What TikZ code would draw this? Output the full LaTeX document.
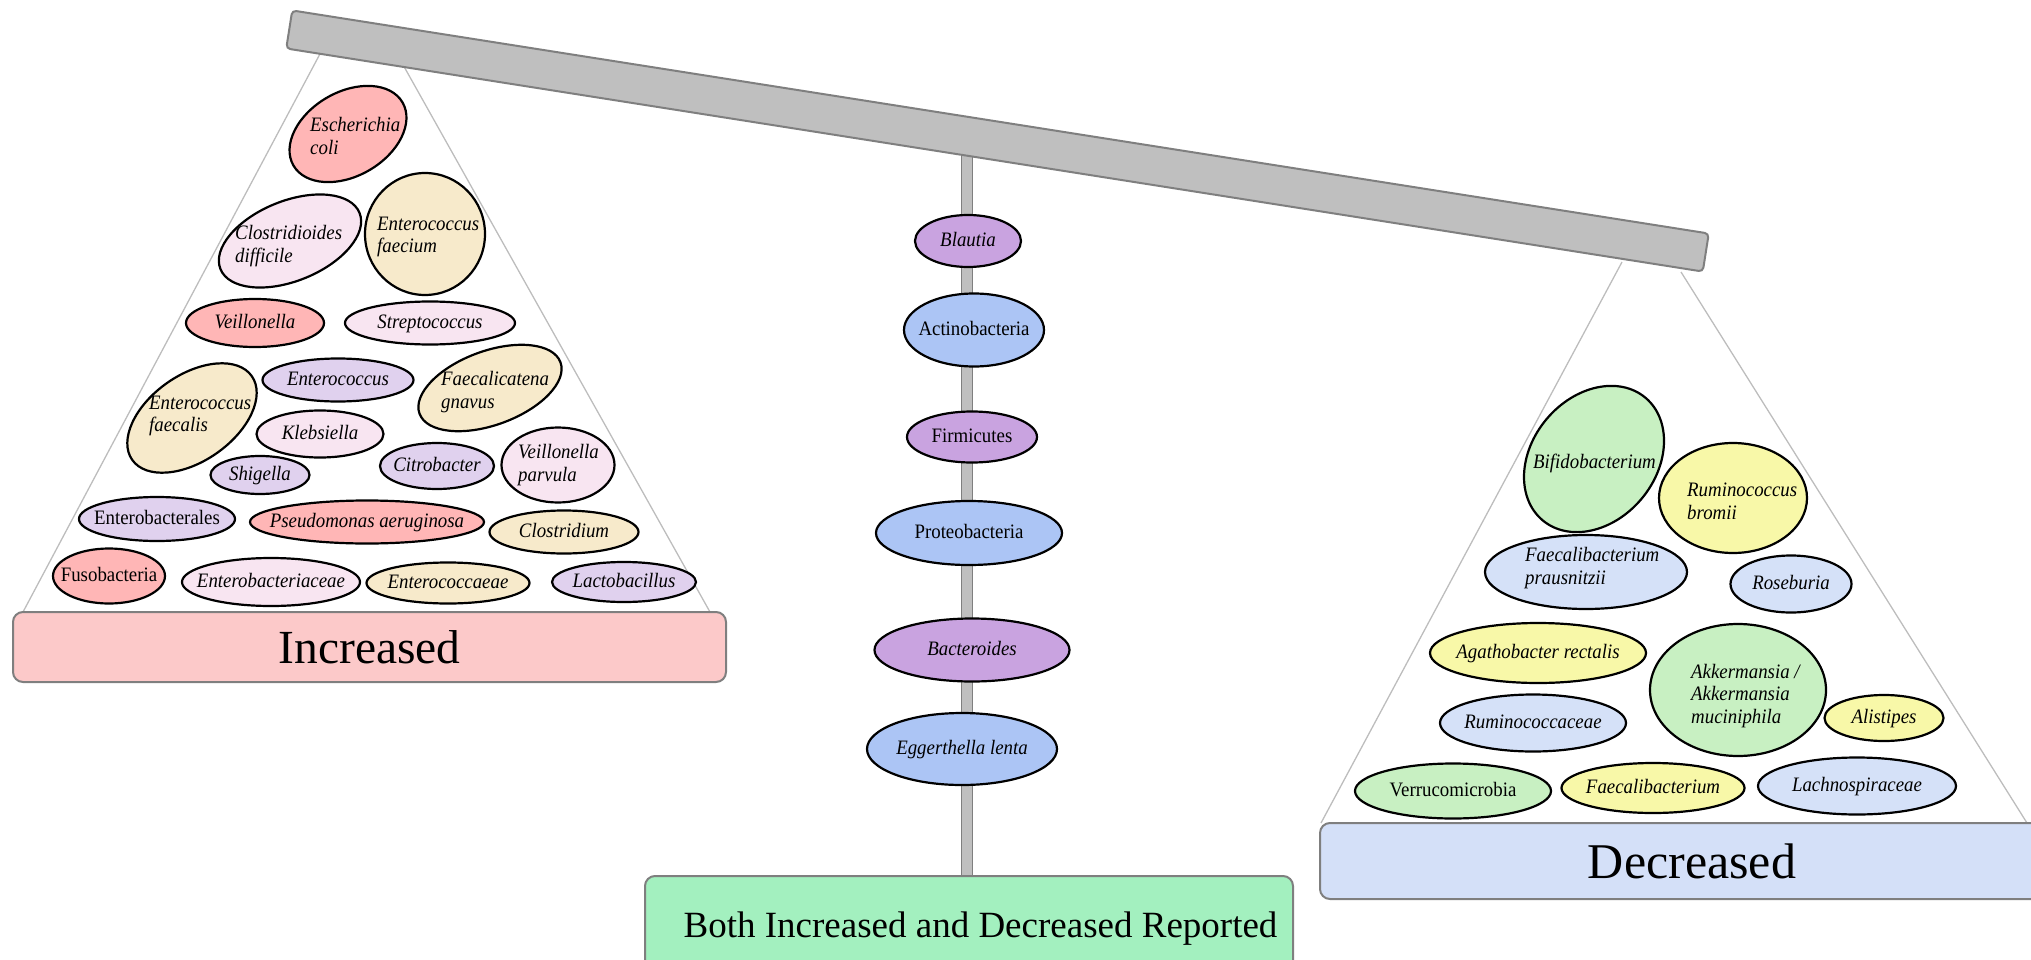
\documentclass[tikz,border=0pt]{standalone}
\usepackage{fontspec}
\setmainfont{Liberation Serif}
\newfontfamily\ovfam[FakeStretch=0.92]{Liberation Serif}
\usetikzlibrary{shapes.geometric}
\definecolor{salmon}{HTML}{FFB6B6}
\definecolor{lpink}{HTML}{F8E5F1}
\definecolor{beige}{HTML}{F7EACB}
\definecolor{lav}{HTML}{E0D1EE}
\definecolor{mpurple}{HTML}{C9A3E0}
\definecolor{mblue}{HTML}{ACC5F5}
\definecolor{rgreen}{HTML}{C8F0C2}
\definecolor{ryellow}{HTML}{F8F8A8}
\definecolor{rblue}{HTML}{D5E1F8}
\definecolor{incbox}{HTML}{FCC9C9}
\definecolor{decbox}{HTML}{D4E0F8}
\definecolor{bothbox}{HTML}{A3F0BF}
\definecolor{beamfill}{HTML}{BFBFBF}
\definecolor{beamdraw}{HTML}{7F7F7F}
\definecolor{stringc}{HTML}{BDBDBD}
\newcommand\ovfont{\ovfam\fontsize{20.5}{22.8}\selectfont}
\newcommand\bub[6]{\node[ov, fill=#3, minimum width=#4pt, minimum height=#5pt, rotate=#6] (#1) at (#2) {};}
\begin{document}
\begin{tikzpicture}[x=1pt,y=-1pt,
  ov/.style={ellipse, draw=black, line width=2.2pt, inner sep=0pt, outer sep=0pt},
  tx/.style={font=\ovfont, inner sep=0pt, text height=14pt, text depth=3pt},
  mtx/.style={font=\ovfont, inner sep=0pt, align=left, anchor=west},
  basebox/.style={rectangle, rounded corners=10pt, draw=beamdraw, line width=2pt, inner sep=0pt},
  stringline/.style={draw=stringc, line width=1.3pt},
  beamstyle/.style={rectangle, rounded corners=4pt, fill=beamfill, draw=beamdraw, line width=2pt, inner sep=0pt},
]
\useasboundingbox (0,0) rectangle (2031,960);
\clip (0,0) rectangle (2031,960);

% strings of the pans
\coordinate (lt1) at (321,52);
\coordinate (lt2) at (402,63);
\coordinate (lb1) at (23,612);
\coordinate (lb2) at (710,612);
\coordinate (rt1) at (1622,262);
\coordinate (rt2) at (1681,272);
\coordinate (rb1) at (1321,823);
\coordinate (rb2) at (2027,823);
\draw[stringline] (lt1) -- (lb1);
\draw[stringline] (lt2) -- (lb2);
\draw[stringline] (rt1) -- (rb1);
\draw[stringline] (rt2) -- (rb2);

% pole
\node[rectangle, fill=beamfill, draw=beamdraw, line width=1.2pt, minimum width=11pt, minimum height=729pt, inner sep=0pt, anchor=north] (pole) at (967,148) {};

% beam
\node[beamstyle, minimum width=1434pt, minimum height=38.5pt, rotate=-8.95] (beam) at (997.5,141) {};

% base boxes
\node[basebox, fill=incbox, minimum width=713pt, minimum height=70pt, font=\fontsize{47.5}{50}\selectfont] (inc) at (369.5,647) {Increased};
\node[basebox, fill=decbox, minimum width=744pt, minimum height=76pt, font=\fontsize{50}{54}\selectfont] (dec) at (1692,861) {Decreased};
\node[basebox, fill=bothbox, minimum width=648pt, minimum height=110pt, anchor=north west] (both) at (644,875) {};
\node[font=\fontsize{37}{40}\selectfont, anchor=base, inner sep=0pt] (bothtxt) at (980.5,937) {Both Increased and Decreased Reported};

% ---- left pan ----
\bub{ecoli}{348,134}{salmon}{126}{84}{30}
\node[mtx] (ecolit) at (310,136) {\itshape Escherichia\\\itshape coli};
\bub{cdiff}{290,241}{lpink}{150}{80}{22}
\node[mtx] (cdifft) at (235,246) {\itshape Clostridioides\\\itshape difficile};
\bub{efaecium}{425,234}{beige}{120}{122}{0}
\node[mtx] (efaeciumt) at (377,237) {\itshape Enterococcus\\\itshape faecium};
\bub{veill}{255,323}{salmon}{138}{48}{0}
\node[tx] (veillt) at (veill) {\itshape Veillonella};
\bub{strep}{430,323}{lpink}{170}{43}{0}
\node[tx] (strept) at (strep) {\itshape Streptococcus};
\bub{entero}{338,380}{lav}{151}{43}{0}
\node[tx] (enterot) at (entero) {\itshape Enterococcus};
\bub{fgnavus}{490,388}{beige}{150}{74}{20}
\node[mtx] (fgnavust) at (441,392) {\itshape Faecalicatena\\\itshape gnavus};
\bub{efaecalis}{192,418}{beige}{146}{86}{35}
\node[mtx] (efaecalist) at (149,416) {\itshape Enterococcus\\\itshape faecalis};
\bub{kleb}{320,434}{lpink}{127}{47}{0}
\node[tx] (klebt) at (kleb) {\itshape Klebsiella};
\bub{shig}{260,475}{lav}{99}{38}{0}
\node[tx] (shigt) at (shig) {\itshape Shigella};
\bub{citro}{437,466}{lav}{114}{46}{0}
\node[tx] (citrot) at (citro) {\itshape Citrobacter};
\bub{vparv}{558,465}{lpink}{113}{75}{0}
\node[mtx] (vparvt) at (518,465) {\itshape Veillonella\\\itshape parvula};
\bub{ebales}{157,519}{lav}{156}{44}{0}
\node[tx] (ebalest) at (ebales) {Enterobacterales};
\bub{pseudo}{367,522}{salmon}{234}{43}{0}
\node[tx] (pseudot) at (pseudo) {\itshape Pseudomonas aeruginosa};
\bub{clostr}{564,532}{beige}{149}{43}{0}
\node[tx] (clostrt) at (clostr) {\itshape Clostridium};
\bub{fuso}{109,576}{salmon}{112}{55}{0}
\node[tx] (fusot) at (fuso) {Fusobacteria};
\bub{ebaceae}{271,582}{lpink}{178}{48}{0}
\node[tx] (ebaceaet) at (ebaceae) {\itshape Enterobacteriaceae};
\bub{eccaeae}{448,583}{beige}{163}{41}{0}
\node[tx] (eccaeaet) at (eccaeae) {\itshape Enterococcaeae};
\bub{lacto}{624,582}{lav}{144}{40}{0}
\node[tx] (lactot) at (lacto) {\itshape Lactobacillus};

% ---- pole ovals ----
\bub{blautia}{968,241}{mpurple}{106}{52}{0}
\node[tx] (blautiat) at (blautia) {\itshape Blautia};
\bub{actino}{974,330}{mblue}{140}{73}{0}
\node[tx] (actinot) at (actino) {Actinobacteria};
\bub{firm}{972,437}{mpurple}{130}{51}{0}
\node[tx] (firmt) at (firm) {Firmicutes};
\bub{proteo}{969,533}{mblue}{186}{64}{0}
\node[tx] (proteot) at (proteo) {Proteobacteria};
\bub{bacter}{972,650}{mpurple}{195}{63}{0}
\node[tx] (bactert) at (bacter) {\itshape Bacteroides};
\bub{egger}{962,749}{mblue}{190}{72}{0}
\node[tx] (eggert) at (egger) {\itshape Eggerthella lenta};

% ---- right pan ----
\bub{bifido}{1594,459}{rgreen}{160}{124}{50}
\node[tx, anchor=west] (bifidot) at (1533,463) {\itshape Bifidobacterium};
\bub{rbromii}{1733,498}{ryellow}{148}{110}{0}
\node[mtx] (rbromiit) at (1687,501) {\itshape Ruminococcus\\\itshape bromii};
\bub{fprau}{1586,572}{rblue}{202}{74}{0}
\node[mtx] (fpraut) at (1525,568) {\itshape Faecalibacterium\\\itshape prausnitzii};
\bub{roseb}{1791,584}{rblue}{121}{57}{0}
\node[tx] (rosebt) at (roseb) {\itshape Roseburia};
\bub{agatho}{1538,653}{ryellow}{216}{60}{0}
\node[tx] (agathot) at (agatho) {\itshape Agathobacter rectalis};
\bub{akk}{1738,690}{rgreen}{176}{132}{0}
\node[mtx] (akkt) at (1691,696) {\itshape Akkermansia /\\\itshape Akkermansia\\\itshape muciniphila};
\bub{alist}{1884,718}{ryellow}{119}{46}{0}
\node[tx] (alistt) at (alist) {\itshape Alistipes};
\bub{rumcc}{1533,723}{rblue}{186}{57}{0}
\node[tx] (rumcct) at (rumcc) {\itshape Ruminococcaceae};
\bub{verruco}{1453,791}{rgreen}{196}{55}{0}
\node[tx] (verrucot) at (verruco) {Verrucomicrobia};
\bub{faecali}{1653,788}{ryellow}{183}{50}{0}
\node[tx] (faecalit) at (faecali) {\itshape Faecalibacterium};
\bub{lachno}{1857,786}{rblue}{198}{57}{0}
\node[tx] (lachnot) at (lachno) {\itshape Lachnospiraceae};
\end{tikzpicture}
\end{document}
